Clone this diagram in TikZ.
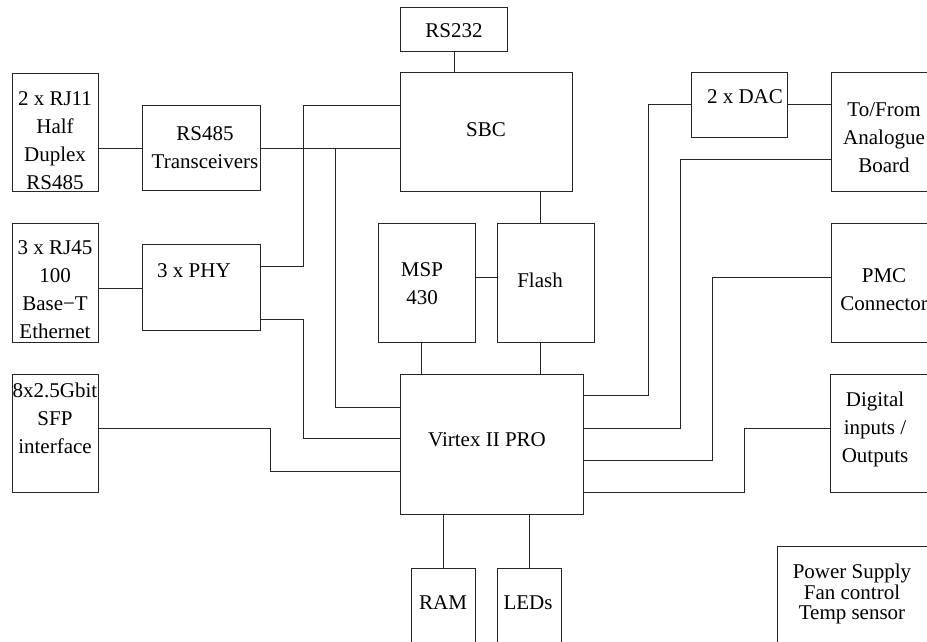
\documentclass[tikz,border=0pt]{standalone}
\usepackage{fontspec}
\setmainfont{Liberation Serif}
\begin{document}
\begin{tikzpicture}[x=1pt,y=-1pt,
  box/.style={draw=black!85, line width=0.9pt, anchor=north west, inner sep=0pt, outer sep=0pt},
  lbl/.style={align=center, inner sep=0pt, font=\fontsize{21}{28}\selectfont},
  tight/.style={align=center, inner sep=0pt, font=\fontsize{21}{20.5}\selectfont},
  wire/.style={draw=black!85, line width=0.9pt}]
\useasboundingbox (0,0) rectangle (927,641);
\clip (0,0) rectangle (927,641);
% boxes
\node[box, minimum width=86pt,  minimum height=118pt] (rj11)   at (12,73)  {};
\node[box, minimum width=118pt, minimum height=85pt]  (trx)    at (142,105) {};
\node[box, minimum width=86pt,  minimum height=119pt] (rj45)   at (12,223) {};
\node[box, minimum width=118pt, minimum height=86pt]  (phy)    at (142,244) {};
\node[box, minimum width=86pt,  minimum height=118pt] (sfp)    at (12,374) {};
\node[box, minimum width=107pt, minimum height=44pt]  (rs232)  at (400,7)   {};
\node[box, minimum width=172pt, minimum height=119pt] (sbc)    at (400,72)  {};
\node[box, minimum width=97pt,  minimum height=119pt] (msp)    at (378,223) {};
\node[box, minimum width=97pt,  minimum height=119pt] (flash)  at (497,223) {};
\node[box, minimum width=183pt, minimum height=140pt] (virtex) at (400,374) {};
\node[box, minimum width=64pt,  minimum height=90pt]  (ram)    at (411,568) {};
\node[box, minimum width=64pt,  minimum height=90pt]  (leds)   at (497,568) {};
\node[box, minimum width=96pt,  minimum height=65pt]  (dac)    at (691,72)  {};
\node[box, minimum width=106pt, minimum height=119pt] (tofrom) at (831,72)  {};
\node[box, minimum width=106pt, minimum height=119pt] (pmc)    at (831,223) {};
\node[box, minimum width=106pt, minimum height=118pt] (dig)    at (830,374) {};
\node[box, minimum width=160pt, minimum height=110pt] (power)  at (777,546) {};
% texts
\node[lbl] (trj11) at (55,141)  {2 x RJ11\\Half\\Duplex\\RS485};
\node[lbl] (ttrx)  at (205,148) {RS485\\Transceivers};
\node[lbl] (trj45) at (55,290)  {3 x RJ45\\100\\Base\textminus T\\Ethernet};
\node[lbl] (tphy)  at (194,271) {3 x PHY};
\node[lbl] (tsfp)  at (55,418)  {8x2.5Gbit\\SFP\\interface};
\node[lbl] (trs)   at (454,31)  {RS232};
\node[lbl] (tsbc)  at (486,130) {SBC};
\node[lbl] (tmsp)  at (422,284) {MSP\\430};
\node[lbl] (tfl)   at (540,280) {Flash};
\node[lbl] (tvx)   at (487,440) {Virtex II PRO};
\node[lbl] (tram)  at (443,603) {RAM};
\node[lbl] (tled)  at (528,603) {LEDs};
\node[lbl] (tdac)  at (745,97)  {2 x DAC};
\node[lbl] (ttf)   at (884,138) {To/From\\Analogue\\Board};
\node[lbl] (tpmc)  at (884,290) {PMC\\Connector};
\node[lbl] (tdig)  at (875,429) {Digital\\inputs /\\Outputs};
\node[tight] (tpow) at (852,594) {Power Supply\\Fan control\\Temp sensor};
% junction
\coordinate (j1) at (335,148);
% wires
\draw[wire] (rj11.east |- 0,148) -- (trx.west |- 0,148);
\draw[wire] (trx.east |- 0,148) -- (sbc.west |- 0,148);
\draw[wire] (phy.east |- 0,266) -| (303,105) -- (sbc.west |- 0,105);
\draw[wire] (phy.east |- 0,319) -| (303,438) -- (virtex.west |- 0,438);
\draw[wire] (j1) |- (virtex.west |- 0,407);
\draw[wire] (rj45.east |- 0,288) -- (phy.west |- 0,288);
\draw[wire] (sfp.east |- 0,428) -| (270,471) -- (virtex.west |- 0,471);
\draw[wire] (rs232.south -| 454,0) -- (sbc.north -| 454,0);
\draw[wire] (sbc.south -| 540,0) -- (flash.north -| 540,0);
\draw[wire] (msp.east |- 0,277) -- (flash.west |- 0,277);
\draw[wire] (msp.south -| 421,0) -- (virtex.north -| 421,0);
\draw[wire] (flash.south -| 540,0) -- (virtex.north -| 540,0);
\draw[wire] (virtex.south -| 443,0) -- (ram.north -| 443,0);
\draw[wire] (virtex.south -| 529,0) -- (leds.north -| 529,0);
\draw[wire] (virtex.east |- 0,395) -| (648,104) -- (dac.west |- 0,104);
\draw[wire] (dac.east |- 0,104) -- (tofrom.west |- 0,104);
\draw[wire] (virtex.east |- 0,428) -| (680,159) -- (tofrom.west |- 0,159);
\draw[wire] (virtex.east |- 0,460) -| (712,277) -- (pmc.west |- 0,277);
\draw[wire] (virtex.east |- 0,492) -| (744,428) -- (dig.west |- 0,428);
\end{tikzpicture}
\end{document}
